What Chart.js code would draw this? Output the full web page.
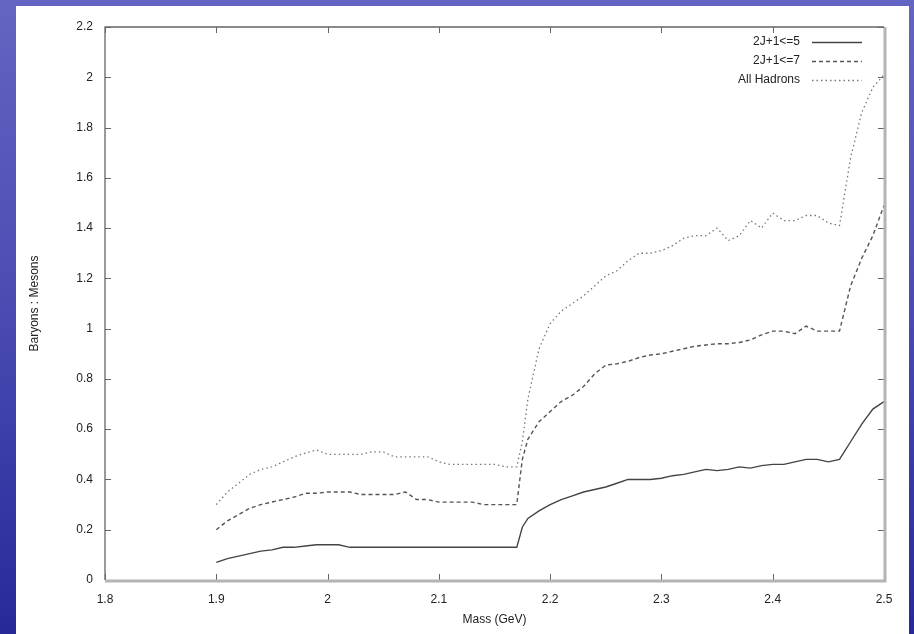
<!DOCTYPE html>
<html>
<head>
<meta charset="utf-8">
<script src="https://cdn.jsdelivr.net/npm/chart.js@4/dist/chart.umd.min.js"></script>
<style>
  html, body { margin: 0; padding: 0; }
  body {
    width: 914px; height: 634px; overflow: hidden; position: relative;
    background: linear-gradient(to bottom, #6464c2 0%, #4a4ab2 50%, #28289a 100%);
  }
  #panel { position: absolute; left: 16px; top: 6px; width: 893px; height: 628px; background: #fff; }
</style>
</head>
<body>
<div id="panel"><canvas id="chart" width="893" height="628"></canvas></div>
<script>
const masses = [1.90, 1.91, 1.92, 1.93, 1.94, 1.95, 1.96, 1.97, 1.98, 1.99,
  2.00, 2.01, 2.02, 2.03, 2.04, 2.05, 2.06, 2.07, 2.08, 2.09,
  2.10, 2.11, 2.12, 2.13, 2.14, 2.15, 2.16, 2.17, 2.175, 2.18, 2.19,
  2.20, 2.21, 2.22, 2.23, 2.24, 2.25, 2.26, 2.27, 2.28, 2.29,
  2.30, 2.31, 2.32, 2.33, 2.34, 2.35, 2.36, 2.37, 2.38, 2.39,
  2.40, 2.41, 2.42, 2.43, 2.44, 2.45, 2.46, 2.47, 2.48, 2.49, 2.50];

const le5 = [0.07, 0.085, 0.095, 0.105, 0.115, 0.12, 0.13, 0.13, 0.135, 0.14,
  0.14, 0.14, 0.13, 0.13, 0.13, 0.13, 0.13, 0.13, 0.13, 0.13,
  0.13, 0.13, 0.13, 0.13, 0.13, 0.13, 0.13, 0.13, 0.21, 0.245, 0.275,
  0.30, 0.32, 0.335, 0.35, 0.36, 0.37, 0.385, 0.40, 0.40, 0.40,
  0.405, 0.415, 0.42, 0.43, 0.44, 0.435, 0.44, 0.45, 0.445, 0.455,
  0.46, 0.46, 0.47, 0.48, 0.48, 0.47, 0.48, 0.55, 0.62, 0.68, 0.71];

const le7 = [0.20, 0.235, 0.26, 0.285, 0.30, 0.31, 0.32, 0.33, 0.345, 0.345,
  0.35, 0.35, 0.35, 0.34, 0.34, 0.34, 0.34, 0.35, 0.32, 0.32,
  0.31, 0.31, 0.31, 0.31, 0.30, 0.30, 0.30, 0.30, 0.48, 0.56, 0.63,
  0.67, 0.71, 0.735, 0.77, 0.82, 0.855, 0.86, 0.87, 0.885, 0.895,
  0.90, 0.91, 0.92, 0.93, 0.935, 0.94, 0.94, 0.945, 0.955, 0.975,
  0.99, 0.99, 0.98, 1.01, 0.99, 0.99, 0.99, 1.17, 1.28, 1.37, 1.49];

const allHadrons = [0.30, 0.35, 0.385, 0.42, 0.44, 0.45, 0.47, 0.49, 0.505, 0.517,
  0.50, 0.50, 0.50, 0.50, 0.51, 0.51, 0.49, 0.49, 0.49, 0.49,
  0.47, 0.46, 0.46, 0.46, 0.46, 0.46, 0.45, 0.45, 0.55, 0.72, 0.92,
  1.02, 1.07, 1.10, 1.13, 1.17, 1.21, 1.23, 1.27, 1.30, 1.30,
  1.31, 1.33, 1.36, 1.37, 1.37, 1.40, 1.35, 1.37, 1.43, 1.40,
  1.46, 1.43, 1.43, 1.45, 1.45, 1.42, 1.41, 1.68, 1.86, 1.96, 2.01];

const seriesLabels = ['2J+1<=5', '2J+1<=7', 'All Hadrons'];
const xTicks = [1.8, 1.9, 2.0, 2.1, 2.2, 2.3, 2.4, 2.5];
const yTicks = [0, 0.2, 0.4, 0.6, 0.8, 1.0, 1.2, 1.4, 1.6, 1.8, 2.0, 2.2];

const pts = vals => masses.map((m, i) => ({ x: m, y: vals[i] }));
const fmt = v => String(+v.toFixed(2));
const font = { family: "'Liberation Sans', Arial, sans-serif", size: 12 };

// gnuplot style frame with inward ticks on all four sides + legend
const framePlugin = {
  id: 'frame',
  afterDatasetsDraw(chart) {
    const { ctx, chartArea: a, scales } = chart;
    ctx.save();
    ctx.strokeStyle = '#666';
    ctx.lineWidth = 1;
    ctx.beginPath();
    scales.x.ticks.forEach(t => {
      const px = Math.round(scales.x.getPixelForValue(t.value)) + 0.5;
      ctx.moveTo(px, a.bottom); ctx.lineTo(px, a.bottom - 6);
      ctx.moveTo(px, a.top); ctx.lineTo(px, a.top + 6);
    });
    scales.y.ticks.forEach(t => {
      const py = Math.round(scales.y.getPixelForValue(t.value)) + 0.5;
      ctx.moveTo(a.left, py); ctx.lineTo(a.left + 6, py);
      ctx.moveTo(a.right, py); ctx.lineTo(a.right - 6, py);
    });
    ctx.stroke();
    // frame: right and bottom appear thicker / lighter
    ctx.strokeStyle = '#b4b4b4';
    ctx.lineWidth = 3;
    ctx.beginPath();
    ctx.moveTo(a.left, a.bottom + 1); ctx.lineTo(a.right + 1, a.bottom + 1); ctx.lineTo(a.right + 1, a.top);
    ctx.stroke();
    ctx.strokeStyle = '#666';
    ctx.lineWidth = 1.3;
    ctx.beginPath();
    ctx.moveTo(a.left, a.bottom); ctx.lineTo(a.left, a.top); ctx.lineTo(a.right, a.top);
    ctx.stroke();

    // legend
    ctx.font = "12px 'Liberation Sans', Arial, sans-serif";
    ctx.textAlign = 'right';
    ctx.textBaseline = 'middle';
    chart.data.datasets.forEach((ds, i) => {
      const y = a.top + 15 + i * 19;
      ctx.fillStyle = '#222';
      ctx.fillText(ds.label, a.right - 84, y);
      ctx.strokeStyle = ds.borderColor;
      ctx.lineWidth = ds.borderWidth;
      ctx.setLineDash(ds.borderDash || []);
      ctx.beginPath();
      ctx.moveTo(a.right - 72, y + 0.5); ctx.lineTo(a.right - 22, y + 0.5);
      ctx.stroke();
    });
    ctx.restore();
  }
};

new Chart(document.getElementById('chart'), {
  type: 'line',
  data: {
    datasets: [
      { label: seriesLabels[0], data: pts(le5), borderColor: '#444', borderWidth: 1.4, borderDash: [] },
      { label: seriesLabels[1], data: pts(le7), borderColor: '#555', borderWidth: 1.4, borderDash: [4, 3] },
      { label: seriesLabels[2], data: pts(allHadrons), borderColor: '#777', borderWidth: 1.3, borderDash: [1.5, 3] }
    ]
  },
  options: {
    responsive: false,
    animation: false,
    elements: { point: { radius: 0 }, line: { tension: 0 } },
    layout: { padding: { left: 0, top: 21, right: 25, bottom: 0 } },
    plugins: { legend: { display: false }, tooltip: { enabled: false } },
    scales: {
      x: {
        type: 'linear', min: 1.8, max: 2.5,
        afterBuildTicks: s => { s.ticks = xTicks.map(v => ({ value: v })); },
        afterFit: s => { s.height = 54; },
        grid: { display: false, drawTicks: false },
        border: { display: false },
        ticks: { font, color: '#222', padding: 12, maxRotation: 0, callback: fmt },
        title: { display: true, text: 'Mass (GeV)', font, color: '#222', padding: { top: 0, bottom: 7 } }
      },
      y: {
        type: 'linear', min: 0, max: 2.2,
        afterBuildTicks: s => { s.ticks = yTicks.map(v => ({ value: v })); },
        afterFit: s => { s.width = 89; },
        grid: { display: false, drawTicks: false },
        border: { display: false },
        ticks: { font, color: '#222', padding: 12, callback: fmt },
        title: { display: true, text: 'Baryons : Mesons', font, color: '#222', padding: { top: 11, bottom: 0 } }
      }
    }
  },
  plugins: [framePlugin]
});
</script>
</body>
</html>
